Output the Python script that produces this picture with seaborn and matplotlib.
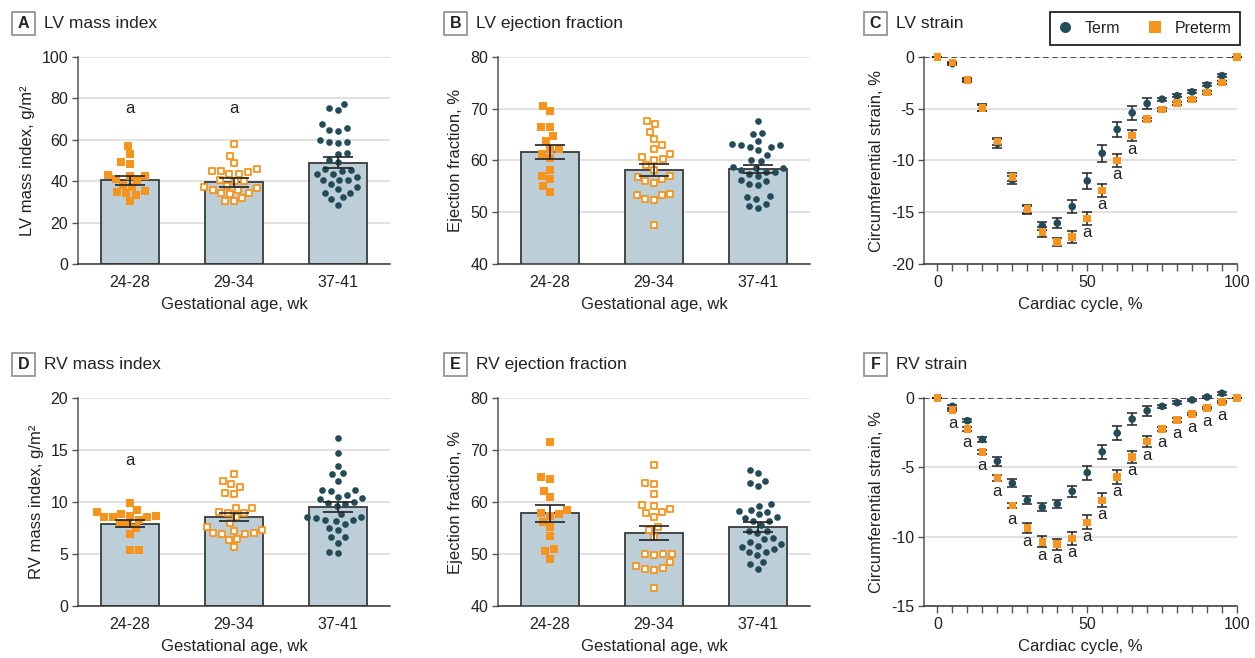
import pandas as pd
import seaborn as sns
from matplotlib import pyplot as plt
from matplotlib.patches import Rectangle

# ---- values ----
groups = ['24-28', '29-34', '37-41']

# A: LV mass index, g/m2
lvmi_24_28 = [57.1, 53.0, 49.1, 48.2, 42.7, 42.7, 42.9, 41.1, 40.6, 38.2, 37.4, 35.3, 34.7, 34.2, 33.4, 30.5]
lvmi_29_34 = [58.1, 52.3, 48.6, 45.7, 44.8, 45.1, 43.7, 44.3, 43.3, 40.0, 40.4, 40.1, 37.9, 36.6, 37.4,
              35.8, 35.8, 34.0, 34.2, 34.5, 31.8, 30.2, 30.5]
lvmi_37_41 = [77.5, 74.3, 75.6, 67.6, 64.7, 64.4, 65.5, 59.1, 58.6, 59.7, 58.7, 53.3, 53.6, 49.1, 50.2, 45.4,
              45.7, 44.9, 43.5, 43.5, 41.9, 40.4, 40.4, 40.4, 38.7, 36.1, 37.1, 34.3, 34.3, 32.3, 31.5, 28.7]
lvmi_mean = [40.4, 39.5, 49.0]
lvmi_se = [2.0, 2.1, 2.6]
lvmi_flags = ['24-28', '29-34']

# B: LV ejection fraction, %
lvef_24_28 = [70.6, 69.5, 66.4, 66.4, 64.7, 63.7, 62.2, 62.2, 61.2, 60.4, 58.1, 57.0, 56.4, 55.0, 53.9]
lvef_29_34 = [67.7, 67.0, 65.6, 64.1, 62.9, 62.2, 61.3, 60.1, 60.6, 60.3, 59.1, 58.2, 57.0, 56.4, 56.9,
              55.6, 56.0, 53.6, 53.4, 53.3, 52.5, 52.4, 47.5]
lvef_37_41 = [67.6, 65.4, 65.2, 63.8, 63.1, 62.0, 62.6, 62.6, 62.9, 62.9, 61.1, 59.9, 60.0, 58.6, 58.6, 58.7,
              57.8, 57.8, 58.1, 57.3, 57.0, 56.3, 55.3, 55.4, 56.0, 52.5, 53.0, 53.1, 50.9, 51.2, 51.6]
lvef_mean = [61.6, 58.2, 58.4]
lvef_se = [1.4, 1.1, 0.8]

# D: RV mass index, g/m2
rvmi_24_28 = [9.87, 8.52, 8.81, 9.23, 9.04, 8.62, 8.68, 8.58, 8.58, 8.0, 8.26, 7.85, 7.46, 6.88, 5.43, 5.43]
rvmi_29_34 = [12.73, 12.03, 11.45, 11.7, 10.8, 10.9, 9.39, 9.39, 8.97, 9.07, 8.94, 8.55, 7.94, 7.62, 7.3,
              7.2, 6.91, 7.04, 7.04, 6.91, 6.43, 6.33, 5.66]
rvmi_37_41 = [16.2, 14.7, 13.47, 12.7, 12.77, 12.06, 10.7, 11.06, 11.13, 11.13, 10.26, 10.35, 10.51, 10.0,
              9.58, 9.77, 9.87, 8.87, 8.46, 8.55, 8.26, 8.59, 8.23, 8.17, 7.85, 7.3, 7.52, 6.59, 6.59,
              6.08, 5.05, 5.24]
rvmi_mean = [7.9, 8.55, 9.5]
rvmi_se = [0.35, 0.4, 0.5]
rvmi_flags = ['24-28']

# E: RV ejection fraction, %
rvef_24_28 = [71.5, 64.4, 64.8, 62.1, 60.9, 57.6, 57.4, 58.5, 57.8, 56.1, 55.1, 53.4, 50.9, 50.5, 49.1]
rvef_29_34 = [67.1, 63.4, 63.7, 61.5, 59.3, 59.4, 58.6, 58.1, 57.9, 57.2, 55.2, 54.7, 53.3, 50.0, 50.0,
              49.8, 50.0, 48.4, 47.6, 47.1, 47.3, 47.0, 43.4]
rvef_37_41 = [66.2, 65.5, 63.7, 63.0, 64.0, 59.6, 59.3, 58.1, 58.5, 58.2, 57.6, 57.1, 57.0, 56.3, 56.3, 55.6,
              54.4, 54.5, 54.1, 52.9, 53.0, 52.3, 51.9, 51.4, 51.6, 50.9, 50.4, 50.3, 49.8, 48.5, 48.0, 47.1]
rvef_mean = [57.8, 54.1, 55.2]
rvef_se = [1.6, 1.35, 1.0]

# C, F: circumferential strain over the cardiac cycle, %
cycle = [0, 5, 10, 15, 20, 25, 30, 35, 40, 45, 50, 55, 60, 65, 70, 75, 80, 85, 90, 95, 100]
lv_term = [0, -0.64, -2.25, -4.9, -8.35, -11.9, -14.8, -16.3, -16.05, -14.45, -11.97, -9.3, -7.0, -5.4,
           -4.5, -4.07, -3.75, -3.37, -2.7, -1.8, 0]
lv_term_se = [0, 0.1, 0.15, 0.35, 0.4, 0.4, 0.4, 0.4, 0.45, 0.65, 0.75, 0.8, 0.75, 0.65, 0.5, 0.15, 0.15,
              0.15, 0.15, 0.15, 0]
lv_pre = [0, -0.55, -2.2, -4.9, -8.15, -11.6, -14.7, -16.9, -17.9, -17.4, -15.6, -12.9, -10.0, -7.6, -6.0,
          -5.07, -4.46, -4.1, -3.43, -2.47, 0]
lv_pre_se = [0, 0.1, 0.15, 0.3, 0.35, 0.4, 0.4, 0.45, 0.4, 0.6, 0.65, 0.6, 0.6, 0.55, 0.15, 0.15, 0.15,
             0.15, 0.15, 0.15, 0]
lv_flags = [50, 55, 60, 65]

rv_term = [0, -0.6, -1.64, -2.99, -4.56, -6.15, -7.38, -7.88, -7.64, -6.73, -5.38, -3.88, -2.53, -1.52,
           -0.92, -0.6, -0.34, -0.14, 0.07, 0.34, 0]
rv_term_se = [0, 0.1, 0.12, 0.15, 0.33, 0.3, 0.3, 0.3, 0.3, 0.4, 0.5, 0.5, 0.5, 0.45, 0.35, 0.12, 0.1, 0.1,
              0.1, 0.1, 0]
rv_pre = [0, -0.87, -2.24, -3.9, -5.76, -7.74, -9.36, -10.37, -10.54, -10.13, -8.97, -7.38, -5.71, -4.24,
          -3.13, -2.24, -1.59, -1.16, -0.72, -0.29, 0]
rv_pre_se = [0, 0.1, 0.15, 0.15, 0.2, 0.2, 0.35, 0.4, 0.4, 0.45, 0.5, 0.5, 0.5, 0.45, 0.4, 0.15, 0.12, 0.1,
             0.1, 0.1, 0]
rv_flags = [5, 10, 15, 20, 25, 30, 35, 40, 45, 50, 55, 60, 65, 70, 75, 80, 85, 90, 95]

# ---- style ----
orange = '#F7941D'
teal = '#244B58'
bar_fill = '#BCCFD8'
ink = '#222222'
label_size = 12

sns.set_style('ticks')
plt.rcParams['font.family'] = ['Liberation Sans', 'DejaVu Sans']
plt.rcParams['axes.unicode_minus'] = False
plt.rcParams['text.color'] = ink
plt.rcParams['axes.labelcolor'] = ink

W, H = 1255, 658
fig = plt.figure(figsize=(W / 100, H / 100), dpi=100)


def px_axes(left, top, right, bottom):
    return fig.add_axes([left / W, 1 - bottom / H, (right - left) / W, (bottom - top) / H])


def panel_label(box_left, box_top, letter, title):
    size = 23
    fig.add_artist(Rectangle((box_left / W, 1 - (box_top + size) / H), size / W, size / H,
                             transform=fig.transFigure, fc='white', ec='#8c8c8c', lw=1.2))
    fig.text((box_left + size / 2) / W, 1 - (box_top + size / 2) / H, letter, ha='center', va='center',
             fontsize=11.5, fontweight='bold')
    fig.text((box_left + size + 9) / W, 1 - (box_top + size / 2) / H, title, ha='left', va='center',
             fontsize=label_size + 0.5)


def style_axes(ax, ylim, yticks):
    ax.set_ylim(ylim)
    ax.set_yticks(yticks)
    ax.grid(axis='y', color='#dedede', lw=1.3)
    ax.set_axisbelow(True)
    sns.despine(ax=ax)
    ax.spines['left'].set_color('#555555')
    ax.spines['bottom'].set_color('#333333')
    ax.spines['left'].set_linewidth(1.1)
    ax.spines['bottom'].set_linewidth(1.1)
    ax.tick_params(axis='y', length=4, width=1, color='#555555', labelsize=11.5, labelcolor=ink, pad=3)


# swarms are laid out with a wider spacing and shrunk afterwards, like a dot plot
swarms = []
SPACING = 6.2


def bar_panel(ax, values, means, ses, ylim, yticks, ylabel, flags=(), flag_y=None):
    sns.barplot(x=groups, y=means, order=groups, color=bar_fill, saturation=1, edgecolor='#3a3a3a',
                linewidth=1.3, width=0.55, errorbar=None, ax=ax, zorder=2)
    styles = [dict(marker='s', color=orange, linewidth=0),
              dict(marker='s', color='white', edgecolor=orange, linewidth=1.3),
              dict(marker='o', color=teal, linewidth=0)]
    final = [5.6, 4.3, 4.8]
    for g, vals, st, fs in zip(groups, values, styles, final):
        n_before = len(ax.collections)
        sns.swarmplot(x=[g] * len(vals), y=vals, order=groups, size=SPACING - st['linewidth'], ax=ax, **st)
        for coll in ax.collections[n_before:]:
            if len(coll.get_offsets()):
                coll.set_zorder(3)
                swarms.append((coll, fs))
    ax.errorbar(x=range(len(groups)), y=means, yerr=ses, fmt='none', ecolor=ink, elinewidth=1.2,
                capsize=10.5, capthick=1.2, zorder=4)
    for g in flags:
        ax.text(groups.index(g), flag_y, 'a', ha='center', va='center', fontsize=label_size)
    style_axes(ax, ylim, yticks)
    ax.set_xlim(-0.5, len(groups) - 0.5)
    ax.tick_params(axis='x', length=0, labelsize=11.5, labelcolor=ink, pad=8)
    ax.set_xlabel('Gestational age, wk', fontsize=label_size, labelpad=5)
    ax.set_ylabel(ylabel, fontsize=label_size, labelpad=5)


def strain_panel(ax, term, term_se, pre, pre_se, flags, ylim, yticks, legend):
    n = len(cycle)
    df = pd.DataFrame({'cycle': cycle * 2, 'strain': term + pre, 'group': ['Term'] * n + ['Preterm'] * n})
    ax.axhline(0, color=ink, lw=1.1, ls=(0, (3.5, 2.5)), zorder=1.5)
    for vals, err in [(term, term_se), (pre, pre_se)]:
        ax.errorbar(cycle, vals, yerr=err, fmt='none', ecolor=ink, elinewidth=1.1, capsize=3.6,
                    capthick=1.1, zorder=2, clip_on=False)
    sns.scatterplot(data=df, x='cycle', y='strain', hue='group', style='group', hue_order=['Term', 'Preterm'],
                    style_order=['Term', 'Preterm'], palette={'Term': teal, 'Preterm': orange},
                    markers={'Term': 'o', 'Preterm': 's'}, s=30, linewidth=0, ax=ax, legend=legend,
                    zorder=3, clip_on=False)
    for c in flags:
        ax.annotate('a', (c, pre[cycle.index(c)]), xytext=(0, -10), textcoords='offset points',
                    ha='center', va='center', fontsize=label_size)
    style_axes(ax, ylim, yticks)
    ax.set_xlim(-4.5, 100)
    ax.set_xticks([0, 50, 100])
    ax.set_xticks(cycle, minor=True)
    ax.tick_params(axis='x', which='both', length=5, width=1, color='#555555', labelsize=11.5,
                   labelcolor=ink, pad=3)
    ax.set_xlabel('Cardiac cycle, %', fontsize=label_size, labelpad=5)
    ax.set_ylabel('Circumferential strain, %', fontsize=label_size, labelpad=5)
    if legend:
        sns.move_legend(ax, 'upper right', bbox_to_anchor=(1.01, 1.217), ncol=2, title=None, frameon=True,
                        fancybox=False, edgecolor=ink, markerscale=1.45, fontsize=11.5, handlelength=0.8,
                        handletextpad=0.8, columnspacing=1.8, borderpad=0.55, borderaxespad=0,
                        framealpha=1)
        ax.get_legend().get_frame().set_linewidth(1.3)


axA = px_axes(78, 57, 390, 264)
axB = px_axes(498, 57, 810, 264)
axC = px_axes(924, 57, 1237, 264)
axD = px_axes(78, 398, 390, 606)
axE = px_axes(498, 398, 810, 606)
axF = px_axes(924, 398, 1237, 606)

bar_panel(axA, [lvmi_24_28, lvmi_29_34, lvmi_37_41], lvmi_mean, lvmi_se, (0, 100), [0, 20, 40, 60, 80, 100],
          'LV mass index, g/m²', lvmi_flags, 75)
bar_panel(axB, [lvef_24_28, lvef_29_34, lvef_37_41], lvef_mean, lvef_se, (40, 80), [40, 50, 60, 70, 80],
          'Ejection fraction, %')
bar_panel(axD, [rvmi_24_28, rvmi_29_34, rvmi_37_41], rvmi_mean, rvmi_se, (0, 20), [0, 5, 10, 15, 20],
          'RV mass index, g/m²', rvmi_flags, 14)
bar_panel(axE, [rvef_24_28, rvef_29_34, rvef_37_41], rvef_mean, rvef_se, (40, 80), [40, 50, 60, 70, 80],
          'Ejection fraction, %')
strain_panel(axC, lv_term, lv_term_se, lv_pre, lv_pre_se, lv_flags, (-20, 0), [-20, -15, -10, -5, 0], True)
strain_panel(axF, rv_term, rv_term_se, rv_pre, rv_pre_se, rv_flags, (-15, 0), [-15, -10, -5, 0], False)

panel_label(12, 12, 'A', 'LV mass index')
panel_label(444, 12, 'B', 'LV ejection fraction')
panel_label(864, 12, 'C', 'LV strain')
panel_label(12, 353, 'D', 'RV mass index')
panel_label(444, 353, 'E', 'RV ejection fraction')
panel_label(864, 353, 'F', 'RV strain')

# lay the swarms out once, then keep those positions and shrink the markers
fig.canvas.draw()
for coll, size in swarms:
    coll.__dict__.pop('draw', None)
    coll.set_sizes([size ** 2])

fig.savefig('out.png', dpi=100)
